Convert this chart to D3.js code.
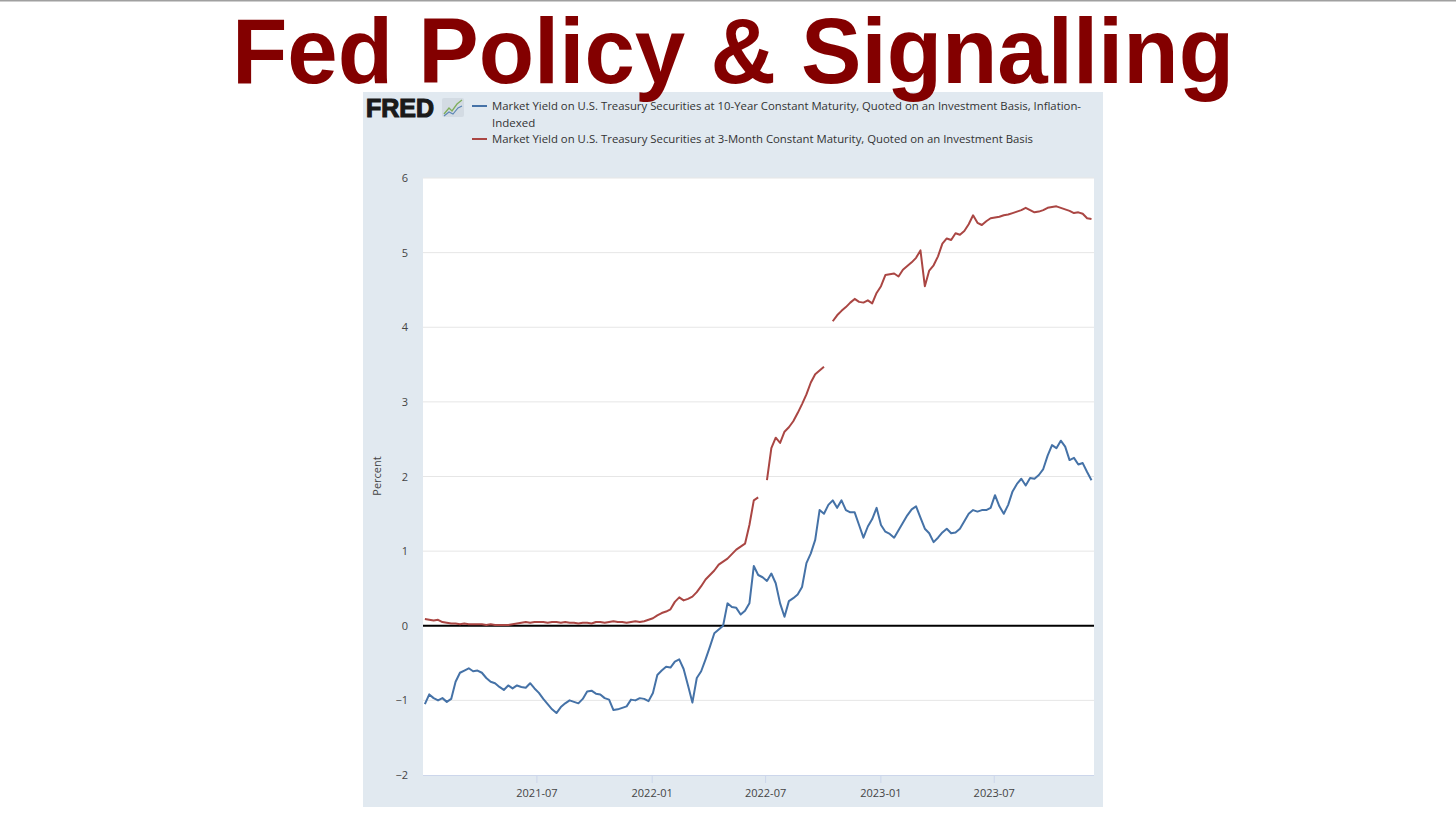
<!DOCTYPE html>
<html><head><meta charset="utf-8">
<script src="https://cdn.jsdelivr.net/npm/d3@7"></script>
<style>body{margin:0;background:#fff}svg{display:block}</style>
</head><body><svg id="c" width="1456" height="822"></svg>
<script>
const titleText = "Fed Policy & Signalling";
const seriesNames = [
  ["Market Yield on U.S. Treasury Securities at 10-Year Constant Maturity, Quoted on an Investment Basis, Inflation-", "Indexed"],
  ["Market Yield on U.S. Treasury Securities at 3-Month Constant Maturity, Quoted on an Investment Basis"]
];
const yTicks = [-2, -1, 0, 1, 2, 3, 4, 5, 6];
const xTickLabels = ["2021-07", "2022-01", "2022-07", "2023-01", "2023-07"];
const firstWeek = "2021-01-04";
const lastWeek = "2023-12-05";
// weekly readings (Mondays) of the 10-year TIPS yield
const tipsYield = [
  -1.05,-0.92,-0.97,-1.00,-0.97,-1.02,-0.98,-0.75,-0.63,-0.60,
  -0.57,-0.61,-0.60,-0.63,-0.70,-0.75,-0.77,-0.82,-0.86,-0.80,
  -0.84,-0.80,-0.82,-0.83,-0.77,-0.84,-0.90,-0.98,-1.05,-1.12,
  -1.17,-1.09,-1.04,-1.00,-1.02,-1.04,-0.98,-0.88,-0.87,-0.91,
  -0.92,-0.97,-0.99,-1.13,-1.12,-1.10,-1.08,-0.99,-1.00,-0.97,
  -0.98,-1.01,-0.90,-0.66,-0.60,-0.55,-0.56,-0.48,-0.45,-0.58,
  -0.80,-1.03,-0.70,-0.61,-0.45,-0.28,-0.10,-0.05,0.00,0.30,
  0.25,0.24,0.15,0.20,0.30,0.80,0.68,0.65,0.60,0.70,
  0.57,0.30,0.12,0.33,0.37,0.42,0.52,0.84,0.97,1.15,
  1.55,1.50,1.62,1.68,1.58,1.68,1.55,1.52,1.52,1.35,
  1.18,1.33,1.43,1.58,1.35,1.26,1.23,1.18,1.28,1.38,
  1.48,1.56,1.60,1.45,1.30,1.24,1.12,1.18,1.25,1.30,
  1.24,1.25,1.30,1.40,1.50,1.55,1.53,1.55,1.55,1.58,
  1.75,1.60,1.50,1.62,1.80,1.90,1.97,1.88,1.98,1.97,
  2.02,2.10,2.28,2.42,2.38,2.48,2.40,2.22,2.25,2.16,
  2.18,2.06,1.95
];
// weekly readings of the 3-month bill yield
const billYield = [
  0.09,0.08,0.07,0.08,0.05,0.04,0.03,0.03,0.02,0.03,
  0.02,0.02,0.02,0.02,0.01,0.02,0.01,0.01,0.01,0.01,
  0.02,0.03,0.04,0.05,0.04,0.05,0.05,0.05,0.04,0.05,
  0.05,0.04,0.05,0.04,0.04,0.03,0.04,0.04,0.03,0.05,
  0.05,0.04,0.05,0.06,0.05,0.05,0.04,0.05,0.06,0.05,
  0.06,0.08,0.10,0.14,0.17,0.19,0.22,0.32,0.38,0.34,
  0.36,0.39,0.45,0.53,0.62,0.68,0.74,0.82,0.86,0.90,
  0.96,1.02,1.06,1.10,1.35,1.68,1.72,null,1.95,2.38,
  2.52,2.45,2.60,2.66,2.74,2.85,2.97,3.10,3.26,3.37,
  3.42,3.47,null,4.08,4.16,4.22,4.27,4.33,4.38,4.34,
  4.33,4.36,4.32,4.46,4.55,4.70,4.71,4.72,4.68,4.77,
  4.82,4.87,4.93,5.03,4.55,4.76,4.83,4.95,5.12,5.19,
  5.17,5.26,5.24,5.29,5.38,5.50,5.40,5.37,5.42,5.46,
  5.47,5.48,5.50,5.51,5.53,5.55,5.57,5.60,5.57,5.54,
  5.55,5.57,5.60,5.61,5.62,5.60,5.58,5.56,5.53,5.54,
  5.52,5.46,5.45
];
const seriesColors = ["#4572a7", "#aa4643"];

const parse = d3.timeParse("%Y-%m-%d");
const dates = d3.timeMonday.range(parse(firstWeek), parse(lastWeek));
const svg = d3.select("#c");

// top rule
svg.append("rect").attr("x", 0).attr("y", 0).attr("width", 1456).attr("height", 1.5).attr("fill", "#a0a0a0");

// FRED panel
svg.append("rect").attr("x", 363).attr("y", 92).attr("width", 740).attr("height", 715).attr("fill", "#e1e9f0");

const plot = {left: 423, right: 1094, top: 178, bottom: 775};
svg.append("rect").attr("x", plot.left).attr("y", plot.top)
  .attr("width", plot.right - plot.left).attr("height", plot.bottom - plot.top).attr("fill", "#fff");

const x = d3.scaleTime().domain([parse("2021-01-01"), parse("2023-12-08")]).range([plot.left, plot.right]);
const y = d3.scaleLinear().domain([-2, 6]).range([plot.bottom, plot.top]);

// gridlines
svg.append("g").selectAll("line").data(yTicks.filter(d => d !== 0 && d !== -2)).join("line")
  .attr("x1", plot.left).attr("x2", plot.right)
  .attr("y1", d => y(d)).attr("y2", d => y(d))
  .attr("stroke", "#e6e6e6").attr("stroke-width", 1);

// y axis
const yAxis = svg.append("g").attr("transform", `translate(${plot.left - 15},0)`)
  .call(d3.axisLeft(y).tickValues(yTicks).tickSize(0).tickPadding(0).tickFormat(d3.format("d")));
yAxis.select(".domain").remove();
yAxis.selectAll("text").attr("font-family", "'Open Sans', sans-serif").attr("font-size", 11).attr("fill", "#444");

// x axis
const xAxis = svg.append("g").attr("transform", `translate(0,${plot.bottom})`)
  .call(d3.axisBottom(x).tickValues(xTickLabels.map(d => parse(d + "-01")))
    .tickSize(8).tickPadding(6).tickFormat(d3.timeFormat("%Y-%m")));
xAxis.select(".domain").attr("stroke", "#ccd6eb").attr("d", `M${plot.left},0.5H${plot.right}`);
xAxis.selectAll("line").attr("stroke", "#ccd6eb");
xAxis.selectAll("text").attr("font-family", "'Open Sans', sans-serif").attr("font-size", 11).attr("fill", "#444");

// y axis title
svg.append("text").attr("transform", "translate(381,476) rotate(-90)")
  .attr("text-anchor", "middle").attr("font-family", "'Open Sans', sans-serif")
  .attr("font-size", 11).attr("fill", "#444").text("Percent");

// zero line
svg.append("line").attr("x1", plot.left).attr("x2", plot.right)
  .attr("y1", y(0)).attr("y2", y(0)).attr("stroke", "#000").attr("stroke-width", 2);

// series
const line = d3.line().defined(d => d[1] !== null).x(d => x(d[0])).y(d => y(d[1]));
[tipsYield, billYield].forEach((vals, i) => {
  svg.append("path").datum(dates.map((d, j) => [d, vals[j]]))
    .attr("fill", "none").attr("stroke", seriesColors[i]).attr("stroke-width", 2)
    .attr("stroke-linejoin", "round").attr("d", line);
});

// FRED logo
svg.append("text").attr("x", 366).attr("y", 117)
  .attr("font-family", "'Liberation Sans', Arial, sans-serif").attr("font-weight", "bold")
  .attr("font-size", 26).attr("fill", "#1a1a1a").attr("stroke", "#1a1a1a").attr("stroke-width", 1.2)
  .attr("textLength", 68).attr("lengthAdjust", "spacingAndGlyphs")
  .text("FRED");
svg.append("rect").attr("x", 442).attr("y", 98).attr("width", 22).attr("height", 19).attr("rx", 2).attr("fill", "#d3dbe3");
svg.append("path").attr("d", "M444,114 L449,108 L452,111 L457,104 L462,100").attr("fill", "none").attr("stroke", "#7fae5b").attr("stroke-width", 1.3);
svg.append("path").attr("d", "M444,116 L449,112 L453,114 L458,108 L462,106").attr("fill", "none").attr("stroke", "#5b86b5").attr("stroke-width", 1.1);

// legend
const legendRows = [{s: 0, y: 106}, {s: 1, y: 139}];
const lineLens = [[589, 0], [541]];
legendRows.forEach(r => {
  svg.append("line").attr("x1", 472).attr("x2", 487).attr("y1", r.y).attr("y2", r.y)
    .attr("stroke", seriesColors[r.s]).attr("stroke-width", 2);
  seriesNames[r.s].forEach((t, k) => {
    const tx = svg.append("text").attr("x", 492).attr("y", r.y + 4 + k * 16.5)
      .attr("font-family", "'Open Sans', sans-serif").attr("font-size", 11.5).attr("fill", "#333").text(t);
    if (lineLens[r.s][k]) tx.attr("textLength", lineLens[r.s][k]).attr("lengthAdjust", "spacingAndGlyphs");
  });
});

// title (drawn last, over the panel edge as in the slide)
svg.append("text").attr("x", 232).attr("y", 83)
  .attr("font-family", "'Liberation Sans', Arial, sans-serif").attr("font-weight", "bold")
  .attr("font-size", 92).attr("fill", "#830000")
  .attr("textLength", 1002).attr("lengthAdjust", "spacingAndGlyphs")
  .text(titleText);
</script></body></html>
